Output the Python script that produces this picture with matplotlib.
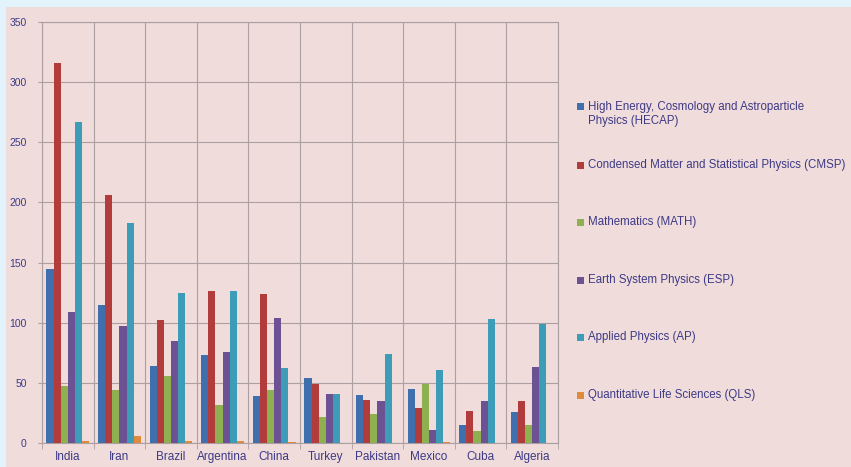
import numpy as np
import matplotlib.pyplot as plt
from matplotlib.patches import Rectangle

countries = ["India", "Iran", "Brazil", "Argentina", "China",
             "Turkey", "Pakistan", "Mexico", "Cuba", "Algeria"]

hecap = [145, 115, 64, 73, 39, 54, 40, 45, 15, 26]
cmsp = [316, 206, 102, 126, 124, 49, 36, 29, 27, 35]
math_ = [47, 44, 56, 32, 44, 22, 24, 49, 10, 15]
esp = [109, 97, 85, 76, 104, 41, 35, 11, 35, 63]
ap = [267, 183, 125, 126, 62, 41, 74, 61, 103, 99]
qls = [2, 6, 2, 2, 1, 0, 0, 1, 0, 0]

labels = ["High Energy, Cosmology and Astroparticle\nPhysics (HECAP)",
          "Condensed Matter and Statistical Physics (CMSP)",
          "Mathematics (MATH)",
          "Earth System Physics (ESP)",
          "Applied Physics (AP)",
          "Quantitative Life Sciences (QLS)"]
colors = ["#3f6fad", "#b23c3b", "#8fb051", "#6c5193", "#3d9db9", "#e08a3c"]

series = [hecap, cmsp, math_, esp, ap, qls]

plt.rcParams['font.family'] = ['Liberation Sans', 'DejaVu Sans']
text_col = "#3d3a86"
grid_col = "#ab9fa1"
bg = "#f0dcdb"

fig = plt.figure(figsize=(8.51, 4.67), dpi=100)
fig.patch.set_facecolor(bg)
# light blue strips on top and left edges
fig.patches.append(Rectangle((0, 1 - 7 / 467), 1, 7 / 467, transform=fig.transFigure,
                             facecolor="#e2f3fb", edgecolor="none", zorder=0))
fig.patches.append(Rectangle((0, 0), 6 / 851, 1, transform=fig.transFigure,
                             facecolor="#e2f3fb", edgecolor="none", zorder=0))

ax = fig.add_axes([42 / 851, 24 / 467, 516 / 851, 421 / 467])
ax.set_facecolor(bg)

x = np.arange(len(countries))
w = 0.138
for i, (vals, c) in enumerate(zip(series, colors)):
    ax.bar(x + (i - 2.5) * w, vals, width=w, color=c, zorder=3)

ax.set_xlim(-0.5, len(countries) - 0.5)
ax.set_ylim(0, 350)
ax.set_yticks(np.arange(0, 351, 50))
ax.set_xticks(x)
ax.set_xticklabels(countries)
ax.set_xticks(np.arange(-0.5, len(countries)), minor=True)

ax.grid(axis='y', which='major', color=grid_col, lw=0.8, zorder=1)
ax.grid(axis='x', which='minor', color=grid_col, lw=0.8, zorder=1)
ax.tick_params(axis='x', which='major', length=0, labelsize=8.5, labelcolor=text_col, pad=6)
ax.tick_params(axis='x', which='minor', length=4, color=grid_col)
ax.tick_params(axis='y', length=3, color=grid_col, labelsize=7.5, labelcolor=text_col, pad=8)
for s in ax.spines.values():
    s.set_color(grid_col)
    s.set_linewidth(0.8)

# legend drawn by hand to keep the square on the first text line
rows_y = [107, 165, 222, 280, 337, 395]
for lab, c, yy in zip(labels, colors, rows_y):
    fy = 1 - yy / 467
    fig.patches.append(Rectangle((577 / 851, fy - 3.5 / 467), 7 / 851, 7 / 467,
                                 transform=fig.transFigure, facecolor=c, edgecolor="none"))
    fig.text(588 / 851, fy + 6 / 467, lab, color=text_col, fontsize=8.3,
             va='top', ha='left', linespacing=1.2)

fig.savefig("out.png", dpi=100, facecolor=fig.get_facecolor())
